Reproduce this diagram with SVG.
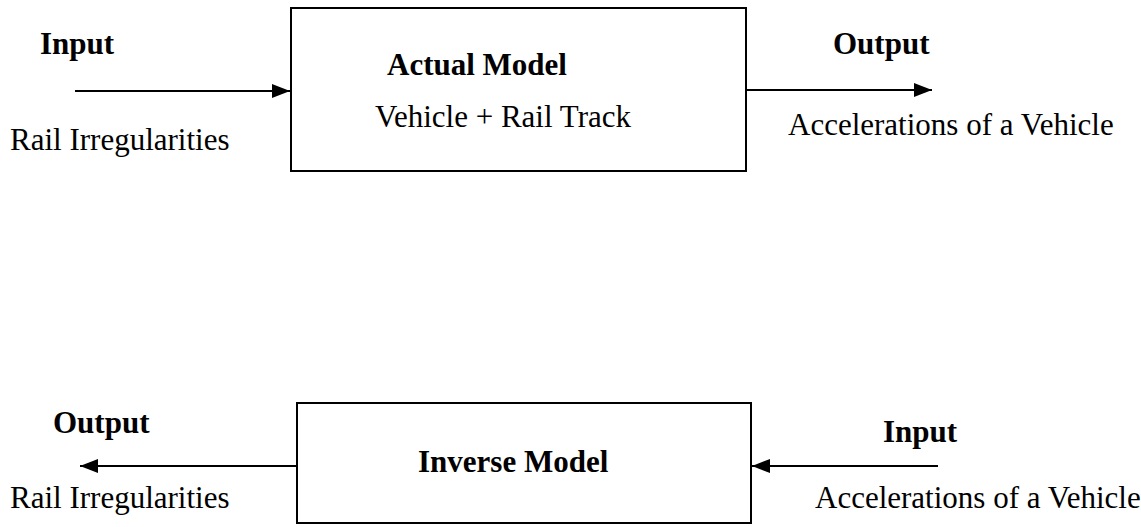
<svg xmlns="http://www.w3.org/2000/svg" width="1141" height="527" viewBox="0 0 1141 527">
  <style>
    .box { fill: #ffffff; stroke: #000000; stroke-width: 2; }
    .wire { stroke: #000000; stroke-width: 2; fill: none; marker-end: url(#head); }
    .lbl { font-family: "Liberation Serif", "Times New Roman", serif; font-size: 31px; fill: #000000; }
    .bold { font-weight: bold; }
  </style>
  <defs>
    <marker id="head" markerUnits="userSpaceOnUse" markerWidth="20" markerHeight="14" refX="18" refY="7" orient="auto">
      <path d="M0,0 L18,7 L0,14 Z" fill="#000000"/>
    </marker>
  </defs>
  <rect width="1141" height="527" fill="#ffffff"/>

  <!-- connectors -->
  <g id="connectors">
    <line class="wire" x1="75" y1="91" x2="290" y2="91"/>
    <line class="wire" x1="746" y1="90" x2="932" y2="90"/>
    <line class="wire" x1="297" y1="466" x2="80" y2="466"/>
    <line class="wire" x1="938" y1="466" x2="752" y2="466"/>
  </g>

  <!-- forward model -->
  <g id="actual-model">
    <rect class="box" x="291" y="8" width="455" height="163"/>
    <text class="lbl bold" x="387" y="75">Actual Model</text>
    <text class="lbl" x="375" y="127">Vehicle + Rail Track</text>
  </g>

  <!-- inverse model -->
  <g id="inverse-model">
    <rect class="box" x="297" y="403" width="454" height="120"/>
    <text class="lbl bold" x="418" y="472">Inverse Model</text>
  </g>

  <!-- top row labels -->
  <g id="top-input">
    <text class="lbl bold" x="40" y="54">Input</text>
    <text class="lbl" x="10" y="150">Rail Irregularities</text>
  </g>
  <g id="top-output">
    <text class="lbl bold" x="833" y="54">Output</text>
    <text class="lbl" x="788" y="135">Accelerations of a Vehicle</text>
  </g>

  <!-- bottom row labels -->
  <g id="bottom-output">
    <text class="lbl bold" x="53" y="433">Output</text>
    <text class="lbl" x="10" y="508">Rail Irregularities</text>
  </g>
  <g id="bottom-input">
    <text class="lbl bold" x="883" y="442">Input</text>
    <text class="lbl" x="815" y="508">Accelerations of a Vehicle</text>
  </g>
</svg>
